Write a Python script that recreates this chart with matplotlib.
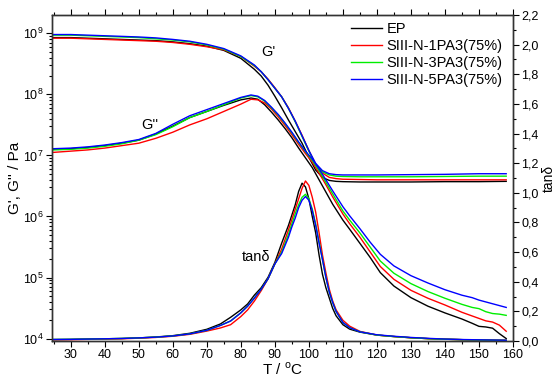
import numpy as np
import matplotlib
matplotlib.use("Agg")
import matplotlib.pyplot as plt
from matplotlib.ticker import LogLocator, MultipleLocator, FuncFormatter, NullFormatter

plt.rcParams['font.family'] = ['Liberation Sans', 'DejaVu Sans']
plt.rcParams['mathtext.fontset'] = 'custom'
plt.rcParams['mathtext.rm'] = 'Liberation Sans'

names = ["EP", "SIII-N-1PA3(75%)", "SIII-N-3PA3(75%)", "SIII-N-5PA3(75%)"]
colors = ["black", "#ff0000", "#00ee00", "#0000ff"]

# storage modulus G' (log10 Pa)
T_gp = [25, 30, 35, 40, 45, 50, 55, 60, 65, 70, 75, 80, 84, 86, 88, 90, 92, 94, 96, 98,
        100, 102, 104, 106, 108, 110, 115, 120, 130, 140, 150, 158]
gp_ep = [8.93, 8.93, 8.92, 8.91, 8.90, 8.89, 8.88, 8.86, 8.83, 8.79, 8.72, 8.59, 8.41, 8.30, 8.15, 7.97,
         7.78, 7.58, 7.39, 7.20, 6.97, 6.76, 6.64, 6.59, 6.575, 6.57, 6.565, 6.565, 6.565, 6.57, 6.57, 6.575]
gp_1 = [8.92, 8.92, 8.91, 8.90, 8.89, 8.88, 8.87, 8.85, 8.82, 8.78, 8.73, 8.62, 8.46, 8.37, 8.25, 8.11,
        7.96, 7.78, 7.56, 7.33, 7.08, 6.85, 6.71, 6.64, 6.62, 6.61, 6.605, 6.60, 6.60, 6.60, 6.60, 6.60]
gp_3 = [8.97, 8.97, 8.96, 8.95, 8.94, 8.93, 8.91, 8.89, 8.86, 8.81, 8.74, 8.62, 8.47, 8.37, 8.24, 8.10,
        7.96, 7.77, 7.55, 7.31, 7.07, 6.85, 6.73, 6.68, 6.66, 6.655, 6.65, 6.65, 6.65, 6.655, 6.66, 6.66]
gp_5 = [8.98, 8.98, 8.97, 8.96, 8.95, 8.94, 8.925, 8.90, 8.87, 8.82, 8.75, 8.63, 8.48, 8.37, 8.24, 8.10,
        7.96, 7.77, 7.56, 7.32, 7.08, 6.87, 6.75, 6.70, 6.685, 6.68, 6.68, 6.68, 6.685, 6.69, 6.70, 6.70]

# loss modulus G'' (log10 Pa)
T_gpp = [25, 30, 35, 40, 45, 50, 55, 60, 65, 70, 75, 80, 83, 85, 87, 89, 91, 93, 95, 97, 99, 101,
         103, 105, 107, 110, 112, 115, 118, 121, 125, 130, 135, 140, 145, 148, 150, 152, 154, 156, 158]
gpp_ep = [7.10, 7.11, 7.13, 7.16, 7.20, 7.25, 7.35, 7.48, 7.62, 7.72, 7.82, 7.91, 7.94, 7.92, 7.83, 7.71,
          7.58, 7.44, 7.29, 7.12, 6.96, 6.80, 6.60, 6.40, 6.20, 5.94, 5.79, 5.56, 5.33, 5.08, 4.86, 4.67,
          4.53, 4.42, 4.32, 4.25, 4.20, 4.19, 4.17, 4.08, 4.00]
gpp_1 = [7.05, 7.07, 7.09, 7.12, 7.16, 7.20, 7.28, 7.38, 7.50, 7.60, 7.72, 7.84, 7.92, 7.91, 7.86, 7.76,
         7.63, 7.49, 7.34, 7.18, 7.03, 6.89, 6.71, 6.52, 6.32, 6.04, 5.88, 5.66, 5.42, 5.18, 4.97, 4.79,
         4.66, 4.55, 4.43, 4.37, 4.33, 4.29, 4.27, 4.22, 4.12]
gpp_3 = [7.09, 7.10, 7.12, 7.15, 7.19, 7.25, 7.34, 7.47, 7.62, 7.72, 7.83, 7.94, 7.98, 7.96, 7.89, 7.78,
         7.66, 7.52, 7.37, 7.21, 7.06, 6.92, 6.75, 6.56, 6.37, 6.09, 5.94, 5.73, 5.50, 5.27, 5.07, 4.90,
         4.77, 4.66, 4.56, 4.51, 4.49, 4.44, 4.41, 4.40, 4.38]
gpp_5 = [7.11, 7.12, 7.14, 7.17, 7.21, 7.26, 7.36, 7.51, 7.65, 7.75, 7.85, 7.95, 7.99, 7.97, 7.90, 7.79,
         7.67, 7.53, 7.38, 7.22, 7.07, 6.94, 6.78, 6.60, 6.42, 6.16, 6.01, 5.80, 5.58, 5.38, 5.19, 5.03,
         4.91, 4.80, 4.71, 4.67, 4.63, 4.60, 4.57, 4.54, 4.51]

# tan delta
T_tan = [25, 30, 35, 40, 45, 50, 55, 60, 65, 70, 74, 77, 80, 82, 84, 86, 88, 90, 92, 94, 95, 96, 97, 98,
         99, 100, 101, 102, 103, 104, 105, 106, 107, 108, 110, 112, 115, 120, 125, 130, 135, 140, 145,
         150, 155, 158]
tan_ep = [.010, .011, .013, .015, .017, .021, .027, .036, .052, .079, .115, .16, .21, .25, .31, .36, .43,
          .53, .66, .78, .85, .92, 1.01, 1.065, 1.04, .96, .84, .73, .58, .45, .36, .29, .22, .17, .11,
          .08, .06, .04, .03, .022, .016, .012, .009, .007, .005, .004]
tan_1 = [.008, .009, .011, .013, .015, .019, .024, .032, .045, .067, .088, .11, .165, .21, .27, .34, .42,
         .52, .62, .75, .82, .89, .96, 1.03, 1.08, 1.05, .97, .87, .73, .58, .46, .35, .27, .21, .14,
         .10, .065, .04, .03, .022, .016, .012, .009, .007, .005, .004]
tan_3 = [.010, .011, .013, .015, .017, .021, .026, .034, .048, .072, .105, .135, .19, .235, .29, .35, .42,
         .52, .60, .72, .79, .86, .92, .97, .99, .96, .89, .79, .67, .55, .43, .33, .26, .20, .125,
         .09, .062, .04, .03, .022, .016, .012, .009, .007, .005, .004]
tan_5 = [.010, .011, .013, .015, .017, .021, .026, .034, .048, .072, .105, .135, .19, .235, .29, .35, .42,
         .52, .59, .70, .77, .83, .90, .95, .975, .95, .88, .78, .66, .55, .43, .33, .26, .20, .125,
         .09, .062, .042, .032, .024, .018, .013, .010, .008, .006, .005]

gp_all = [gp_ep, gp_1, gp_3, gp_5]
gpp_all = [gpp_ep, gpp_1, gpp_3, gpp_5]
tan_all = [tan_ep, tan_1, tan_3, tan_5]

fig = plt.figure(figsize=(5.55, 3.77), dpi=100)
ax = fig.add_axes([52/555, 36/377, 461/555, 326/377])
ax2 = ax.twinx()

for i in range(4):
    ax.plot(T_gp, 10**np.array(gp_all[i]), color=colors[i], lw=1.0, label=names[i])
    ax.plot(T_gpp, 10**np.array(gpp_all[i]), color=colors[i], lw=1.0)
    ax2.plot(T_tan, tan_all[i], color=colors[i], lw=1.0)

ax.set_yscale('log')
ax.set_xlim(24.5, 160)
ax.set_ylim(10**3.96, 10**9.3)
ax2.set_ylim(0, 2.2)

ax.xaxis.set_major_locator(MultipleLocator(10))
ax.xaxis.set_minor_locator(MultipleLocator(5))
ax.yaxis.set_major_locator(LogLocator(base=10, numticks=20))
ax.yaxis.set_minor_locator(LogLocator(base=10, subs=np.arange(2, 10), numticks=20))
ax.yaxis.set_minor_formatter(NullFormatter())
ax.yaxis.set_major_formatter(FuncFormatter(lambda v, p: r'$10^{%d}$' % round(np.log10(v))))
ax2.yaxis.set_major_locator(MultipleLocator(0.2))
ax2.yaxis.set_minor_locator(MultipleLocator(0.1))
ax2.yaxis.set_major_formatter(FuncFormatter(lambda v, p: ('%.1f' % v).replace('.', ',')))

ax.tick_params(axis='both', which='major', direction='out', length=4, width=0.8, labelsize=9, pad=2)
ax.tick_params(axis='both', which='minor', direction='out', length=2, width=0.8)
ax.tick_params(axis='x', which='both', top=True)
ax2.tick_params(axis='y', which='major', direction='out', length=4, width=0.8, labelsize=9, pad=2)
ax2.tick_params(axis='y', which='minor', direction='out', length=2, width=0.8)

for a in (ax, ax2):
    for s in a.spines.values():
        s.set_linewidth(1.0)
        s.set_color('#333333')

ax.set_xlabel('T / $^{\\rm o}$C', fontsize=11, labelpad=0)
ax.set_ylabel("G', G'' / Pa", fontsize=11, labelpad=1)
ax2.set_ylabel('tanδ', fontsize=10, labelpad=2)

ax.text(0.469, 0.887, "G'", transform=ax.transAxes, fontsize=10.5, ha='center', va='center')
ax.text(0.213, 0.663, "G''", transform=ax.transAxes, fontsize=10.5, ha='center', va='center')
ax.text(0.443, 0.258, "tanδ", transform=ax.transAxes, fontsize=10.5, ha='center', va='center')

leg = ax.legend(loc='upper left', bbox_to_anchor=(351/555, 1 - 22/377), bbox_transform=fig.transFigure,
                frameon=False, fontsize=10.5, handlelength=2.1, handletextpad=0.35,
                labelspacing=0.2, borderpad=0, borderaxespad=0)

fig.savefig('out.png', dpi=100)
